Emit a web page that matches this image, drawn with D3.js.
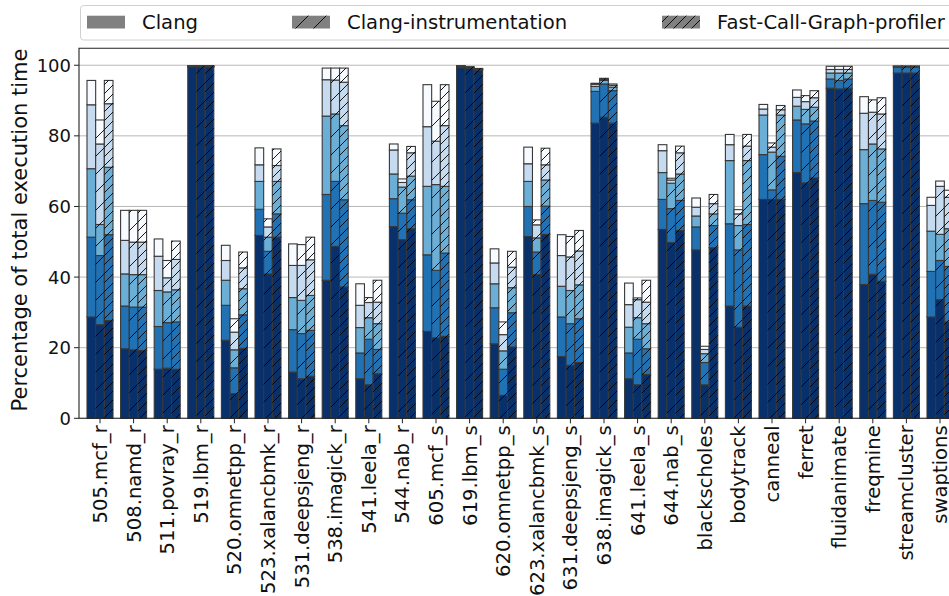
<!doctype html>
<html>
<head>
<meta charset="utf-8">
<script src="https://d3js.org/d3.v7.min.js"></script>
<style>
  body { margin: 0; background: #fff; }
  svg { display: block; font-family: "DejaVu Sans", sans-serif; }
</style>
</head>
<body>
<div id="chart"></div>
<script>
// benchmarks on the x axis
var categories = ["505.mcf_r", "508.namd_r", "511.povray_r", "519.lbm_r", "520.omnetpp_r",
  "523.xalancbmk_r", "531.deepsjeng_r", "538.imagick_r", "541.leela_r", "544.nab_r",
  "605.mcf_s", "619.lbm_s", "620.omnetpp_s", "623.xalancbmk_s", "631.deepsjeng_s",
  "638.imagick_s", "641.leela_s", "644.nab_s", "blackscholes", "bodytrack", "canneal",
  "ferret", "fluidanimate", "freqmine", "streamcluster", "swaptions"];

var seriesNames = ["Clang", "Clang-instrumentation", "Fast-Call-Graph-profiler"];

// cumulative top (%) of each of the 5 stacked parts, one row per benchmark
var clangTops = [
  [28.7, 51.3, 70.7, 88.8, 95.7], [19.7, 31.8, 40.9, 50.4, 58.9], [13.9, 26.0, 36.2, 45.9, 50.8],
  [99.5, 99.6, 99.7, 99.8, 99.9], [22.1, 32.0, 39.1, 44.7, 49.0], [51.8, 59.2, 67.1, 71.8, 76.6],
  [13.1, 25.1, 34.2, 43.3, 49.4], [39.1, 63.4, 85.6, 95.9, 99.2], [11.2, 18.5, 25.7, 32.0, 38.1],
  [54.3, 62.2, 69.2, 76.0, 77.7], [24.6, 46.3, 65.7, 82.6, 94.5], [99.3, 99.5, 99.7, 99.8, 99.9],
  [21.1, 31.3, 38.1, 44.0, 48.0], [51.5, 60.0, 67.1, 72.1, 76.8], [17.5, 28.7, 37.4, 46.1, 52.0],
  [83.6, 92.6, 94.0, 94.6, 94.9], [11.2, 18.5, 25.8, 32.2, 38.3], [53.5, 62.0, 69.6, 75.8, 77.5],
  [47.7, 54.2, 57.3, 59.8, 62.4], [31.8, 55.1, 73.0, 77.5, 80.4], [62.0, 74.7, 85.9, 87.6, 88.9],
  [69.6, 84.5, 88.4, 90.9, 93.0], [93.5, 96.1, 97.8, 98.8, 99.7], [37.9, 60.8, 76.1, 86.4, 91.1],
  [97.8, 99.5, 99.6, 99.7, 99.8], [28.7, 41.6, 53.0, 60.3, 62.6]
];
var instrTops = [
  [26.5, 46.1, 54.9, 77.7, 84.5], [19.4, 31.5, 40.7, 49.9, 58.9], [14.2, 27.1, 35.8, 39.8, 44.7],
  [99.5, 99.6, 99.7, 99.8, 99.9], [7.0, 14.3, 19.4, 24.4, 28.2], [40.9, 47.3, 51.3, 54.2, 56.5],
  [11.2, 24.0, 33.4, 43.3, 49.2], [48.7, 67.1, 86.2, 95.8, 99.2], [9.5, 22.4, 28.5, 32.8, 34.2],
  [50.6, 58.1, 65.5, 66.8, 67.8], [22.8, 41.9, 66.2, 78.5, 89.8], [99.1, 99.3, 99.4, 99.5, 99.6],
  [6.5, 13.9, 19.1, 23.7, 27.3], [40.7, 47.1, 51.1, 54.8, 56.2], [15.0, 26.8, 36.2, 45.7, 51.5],
  [85.3, 94.7, 95.7, 96.0, 96.3], [9.5, 22.4, 28.5, 33.6, 34.1], [49.8, 59.4, 66.6, 67.5, 68.0],
  [9.5, 15.8, 18.3, 19.5, 20.4], [25.8, 47.7, 54.6, 57.9, 59.1], [62.0, 64.7, 75.4, 76.8, 78.0],
  [66.7, 83.4, 87.5, 89.7, 91.4], [93.3, 95.7, 97.8, 98.8, 99.7], [40.8, 61.7, 77.7, 86.7, 90.2],
  [97.8, 99.5, 99.6, 99.7, 99.8], [33.6, 44.7, 52.1, 65.7, 67.2]
];
var fcgTops = [
  [27.7, 52.0, 71.1, 89.1, 95.7], [19.2, 31.5, 40.7, 49.9, 58.9], [13.9, 27.3, 36.4, 45.0, 50.2],
  [99.5, 99.6, 99.7, 99.8, 99.9], [19.8, 29.3, 36.7, 42.6, 47.1], [51.3, 57.9, 67.1, 71.6, 76.3],
  [11.9, 24.9, 34.8, 44.9, 51.3], [37.2, 61.9, 82.9, 95.2, 99.2], [12.6, 19.5, 26.8, 32.9, 39.1],
  [53.7, 61.9, 68.6, 75.2, 77.0], [23.2, 46.8, 65.7, 82.9, 94.5], [98.6, 98.8, 98.9, 99.0, 99.1],
  [20.2, 29.9, 37.0, 42.8, 47.3], [52.1, 60.1, 67.5, 71.8, 76.5], [15.8, 28.2, 37.8, 47.4, 53.2],
  [83.6, 92.8, 93.8, 94.3, 94.7], [12.4, 19.7, 26.8, 32.9, 39.1], [53.2, 61.7, 69.2, 75.2, 77.1],
  [48.3, 54.6, 57.9, 60.8, 63.4], [31.8, 54.9, 73.0, 77.1, 80.4], [62.0, 74.2, 85.9, 87.4, 88.6],
  [68.1, 84.2, 88.1, 90.8, 92.8], [93.5, 96.1, 97.8, 98.8, 99.7], [38.8, 61.2, 76.3, 86.2, 90.8],
  [97.8, 99.5, 99.6, 99.7, 99.8], [27.3, 43.0, 53.7, 62.6, 64.6]
];

var yTicks = [0, 20, 40, 60, 80, 100];
var yLabel = "Percentage of total execution time";

// styling
var partColors = ["#08306b", "#2171b5", "#6baed6", "#c6dbef", "#f7fbff"];
var hatchSpacing = [0, 18, 9];   // none, "/", "//"
var barWidth = 0.258;            // in category units

var width = 949, height = 596;
var plotLeft = 79, plotTop = 48.3, plotBottom = 418.3;

var svg = d3.select("#chart").append("svg")
  .attr("width", width)
  .attr("height", height)
  .style("overflow", "hidden");

// hatch patterns
var defs = svg.append("defs");
hatchSpacing.forEach(function (s, i) {
  if (!s) return;
  var p = defs.append("pattern")
    .attr("id", "hatch" + i)
    .attr("patternUnits", "userSpaceOnUse")
    .attr("width", s).attr("height", s);
  p.append("path")
    .attr("d", "M-1,1 l2,-2 M0," + s + " l" + s + ",-" + s + " M" + (s - 1) + "," + (s + 1) + " l2,-2")
    .attr("stroke", "#000")
    .attr("stroke-width", 0.9)
    .attr("fill", "none");
});

// scales: the axes run past the right edge of the window
var x = d3.scaleLinear()
  .domain([-0.625, categories.length - 1 + 0.625])
  .range([plotLeft, plotLeft + (categories.length - 1 + 1.25) * 33.6]);
var y = d3.scaleLinear().domain([0, 104.8]).range([plotBottom, plotTop]);
var plotRight = x.range()[1];

// grid
svg.append("g")
  .selectAll("line")
  .data(yTicks)
  .join("line")
  .attr("x1", plotLeft).attr("x2", plotRight)
  .attr("y1", function (d) { return y(d); })
  .attr("y2", function (d) { return y(d); })
  .attr("stroke", "#b0b0b0")
  .attr("stroke-width", 0.9);

// bars
var allSeries = [clangTops, instrTops, fcgTops];
var bars = svg.append("g");
allSeries.forEach(function (tops, s) {
  var offset = (s - 1) * barWidth;
  tops.forEach(function (row, i) {
    var x0 = x(i + offset - barWidth / 2);
    var w = x(i + offset + barWidth / 2) - x0;
    var g = bars.append("g");
    g.selectAll("rect.part")
      .data(row)
      .join("rect")
      .attr("class", "part")
      .attr("x", x0)
      .attr("width", w)
      .attr("y", function (d) { return y(d); })
      .attr("height", function (d, k) { return y(k ? row[k - 1] : 0) - y(d); })
      .attr("fill", function (d, k) { return partColors[k]; })
      .attr("stroke", "#383838")
      .attr("stroke-width", 1.1);
    if (hatchSpacing[s]) {
      g.append("rect")
        .attr("x", x0)
        .attr("width", w)
        .attr("y", y(row[4]))
        .attr("height", y(0) - y(row[4]))
        .attr("fill", "url(#hatch" + s + ")");
    }
  });
});

// spines
svg.append("path")
  .attr("d", "M" + plotRight + "," + plotTop + "H" + plotLeft + "V" + plotBottom + "H" + plotRight)
  .attr("fill", "none")
  .attr("stroke", "#222")
  .attr("stroke-width", 1.1);

// y axis
var yAxis = svg.append("g");
yAxis.selectAll("line")
  .data(yTicks)
  .join("line")
  .attr("x1", plotLeft - 5).attr("x2", plotLeft)
  .attr("y1", function (d) { return y(d); })
  .attr("y2", function (d) { return y(d); })
  .attr("stroke", "#222");
yAxis.selectAll("text")
  .data(yTicks)
  .join("text")
  .attr("x", plotLeft - 8)
  .attr("y", function (d) { return y(d); })
  .attr("dy", "0.36em")
  .attr("text-anchor", "end")
  .attr("font-size", 18)
  .attr("fill", "#111")
  .text(function (d) { return d; });

svg.append("text")
  .attr("transform", "translate(19,230) rotate(-90)")
  .attr("dy", "0.36em")
  .attr("text-anchor", "middle")
  .attr("font-size", 21)
  .attr("fill", "#111")
  .text(yLabel);

// x axis
var xAxis = svg.append("g");
xAxis.selectAll("line")
  .data(categories)
  .join("line")
  .attr("x1", function (d, i) { return x(i); })
  .attr("x2", function (d, i) { return x(i); })
  .attr("y1", plotBottom).attr("y2", plotBottom + 5)
  .attr("stroke", "#222");
xAxis.selectAll("text")
  .data(categories)
  .join("text")
  .attr("transform", function (d, i) { return "translate(" + x(i) + "," + (plotBottom + 7) + ") rotate(-90)"; })
  .attr("dy", "0.36em")
  .attr("text-anchor", "end")
  .attr("font-size", 19.6)
  .attr("fill", "#111")
  .text(function (d) { return d; });

// legend
var legend = svg.append("g");
legend.append("rect")
  .attr("x", 80.5).attr("y", 5.5)
  .attr("width", 900).attr("height", 34.5)
  .attr("rx", 3)
  .attr("fill", "#fff")
  .attr("stroke", "#d0d0d0");
var legendX = [87, 292, 662];
seriesNames.forEach(function (name, s) {
  legend.append("rect")
    .attr("x", legendX[s]).attr("y", 15.7)
    .attr("width", 38).attr("height", 12.8)
    .attr("fill", "#808080");
  if (hatchSpacing[s]) {
    legend.append("rect")
      .attr("x", legendX[s]).attr("y", 15.7)
      .attr("width", 38).attr("height", 12.8)
      .attr("fill", "url(#hatch" + s + ")");
  }
  legend.append("text")
    .attr("x", legendX[s] + 55)
    .attr("y", 28.5)
    .attr("font-size", 19.6)
    .attr("fill", "#111")
    .text(name);
});
</script>
</body>
</html>
